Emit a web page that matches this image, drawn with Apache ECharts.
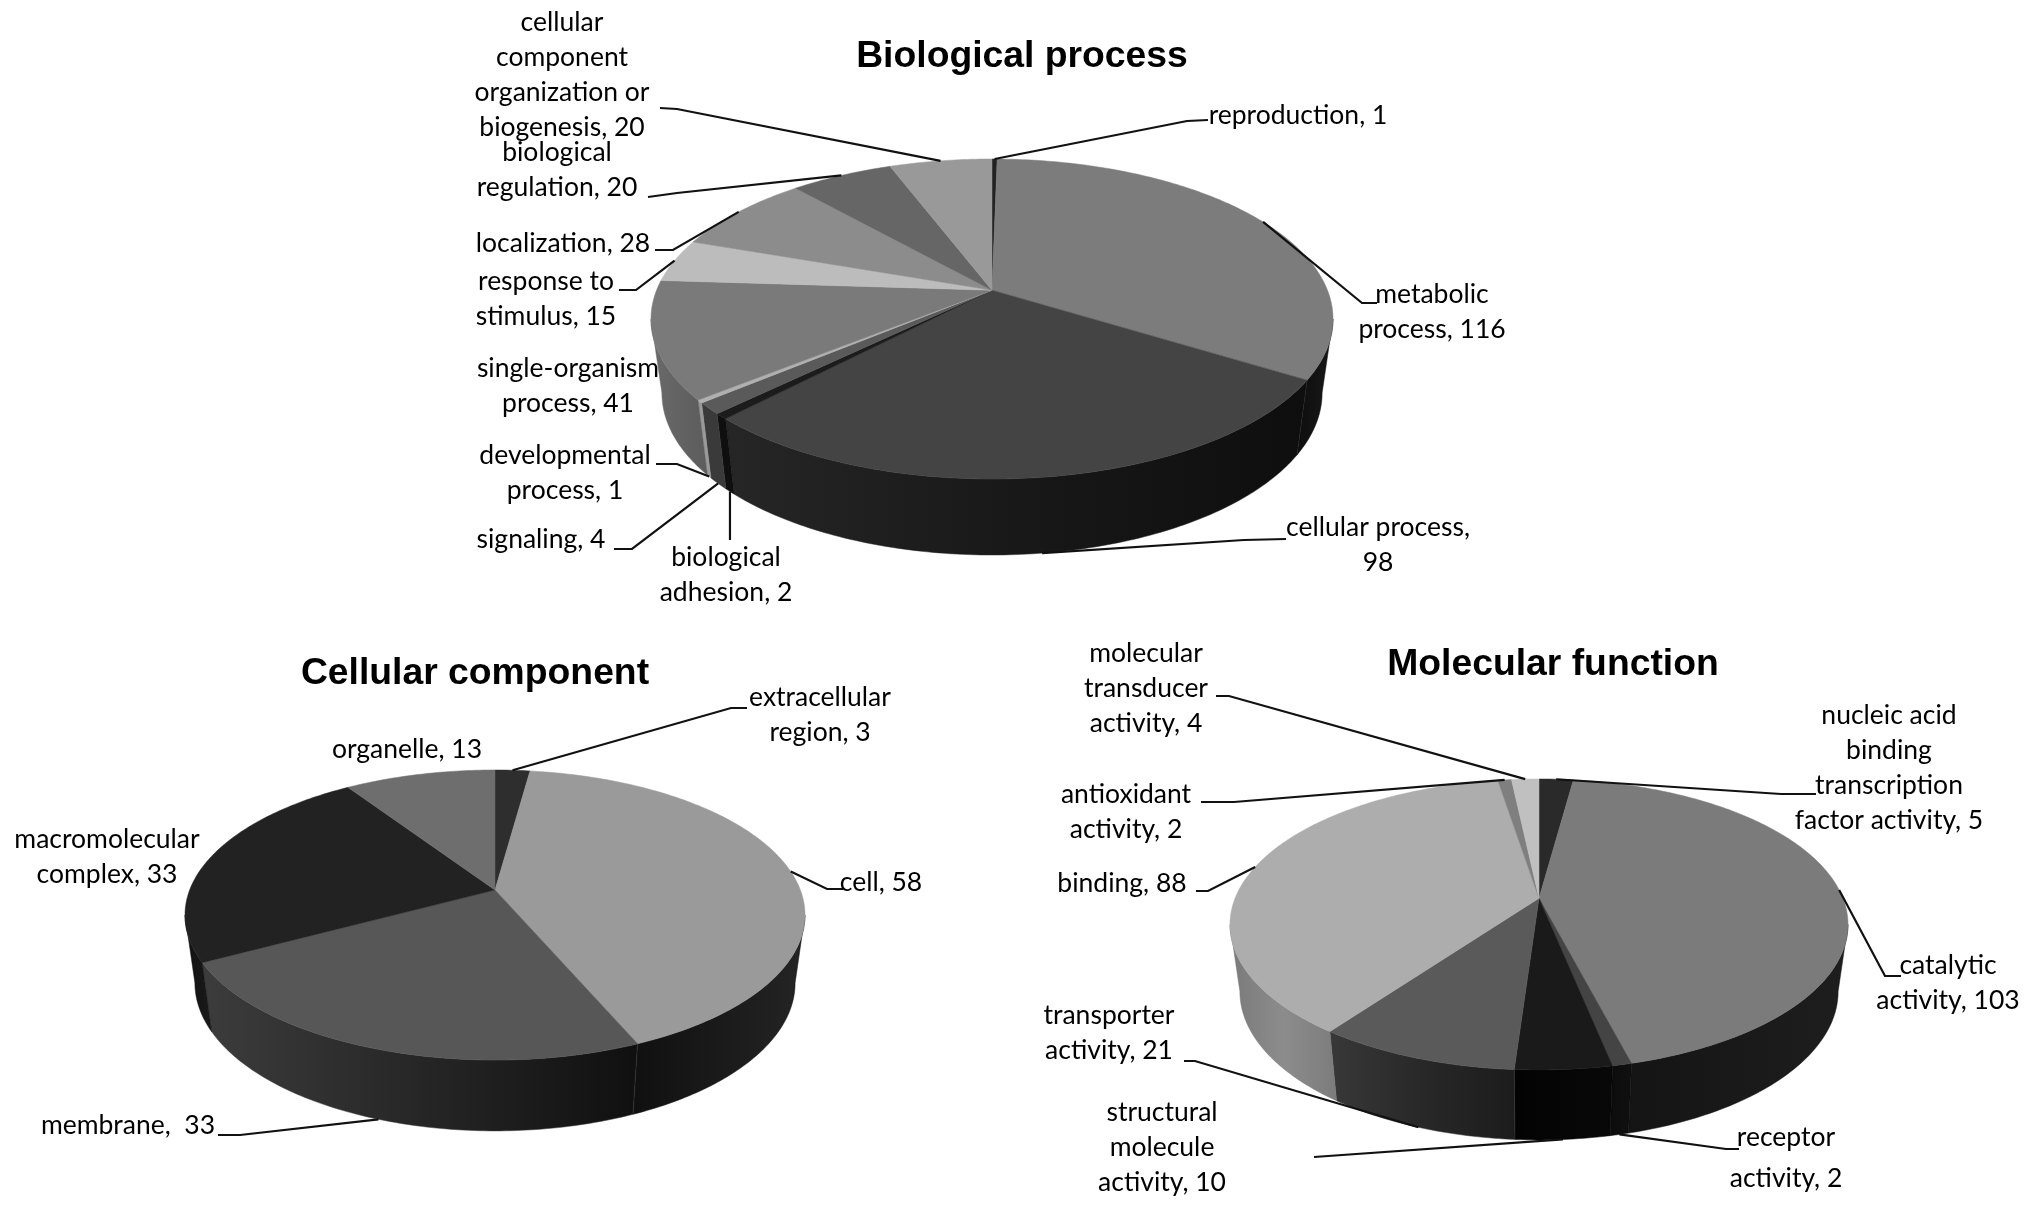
<!DOCTYPE html>
<html><head><meta charset="utf-8">
<style>html,body{margin:0;background:#fff}#c{width:2031px;height:1207px}</style>
<script src="https://cdn.jsdelivr.net/npm/echarts@6/dist/echarts.min.js"></script>
</head><body><div id="c"></div>
<script>
// ---------- data ----------
const bioNames = ['reproduction, 1','metabolic\nprocess, 116','cellular process,\n98','biological\nadhesion, 2','signaling, 4','developmental\nprocess, 1','single-organism\nprocess, 41','response to\nstimulus, 15','localization, 28','biological\nregulation, 20','cellular\ncomponent\norganization or\nbiogenesis, 20'];
const bioValues = [1,116,98,2,4,1,41,15,28,20,20];
const ccNames = ['extracellular\nregion, 3','cell, 58','membrane,  33','macromolecular\ncomplex, 33','organelle, 13'];
const ccValues = [3,58,33,33,13];
const mfNames = ['nucleic acid\nbinding\ntranscription\nfactor activity, 5','catalytic\nactivity, 103','receptor\nactivity, 2','structural\nmolecule\nactivity, 10','transporter\nactivity, 21','binding, 88','antioxidant\nactivity, 2','molecular\ntransducer\nactivity, 4'];
const mfValues = [5,103,2,10,21,88,2,4];

// ---------- style ----------
const bioTop = ['#222222','#7c7c7c','#444444','#1c1c1c','#5a5a5a','#b0b0b0','#7a7a7a','#bcbcbc','#8c8c8c','#666666','#999999'];
const bioWall = [['#111','#111'],['#0e0e0e','#181818'],['#262626','#181818','#0e0e0e'],['#0f0f0f','#0f0f0f'],['#3a3a3a','#3a3a3a'],['#999','#999'],['#6a6a6a','#5c5c5c'],['#888','#888'],['#555','#555'],['#444','#444'],['#555','#555']];
const ccTop = ['#2e2e2e','#9a9a9a','#575757','#222222','#6e6e6e'];
const ccWall = [['#111','#111'],['#101010','#242424'],['#3c3c3c','#262626','#101010'],['#111','#1a1a1a'],['#333','#333']];
const mfTop = ['#2a2a2a','#7b7b7b','#444444','#1a1a1a','#5a5a5a','#adadad','#7f7f7f','#c0c0c0'];
const mfWall = [['#111','#111'],['#141414','#1e1e1e'],['#0c0c0c','#101010'],['#030303','#080808'],['#383838','#282828','#1c1c1c'],['#7a7a7a','#8c8c8c','#7c7c7c'],['#444','#444'],['#666','#666']];

// ---------- layout ----------
const bioShape = {cx:992,cy:319,rx:341,ry:160,a:-0.18,kx:0.968,ky:1.0125,h:74};
const ccShape = {cx:495,cy:915,rx:310,ry:145,a:-0.172,kx:0.968,ky:1.02,h:68};
const mfShape = {cx:1539,cy:924.5,rx:309,ry:145.5,a:-0.18,kx:0.968,ky:1.02,h:67};
// label centre, then leader points from the label towards the pie (null = no leader)
const bioLabels = [
 {at:[1298,115],line:[[1208,120],[1187,121]]},
 {at:[1432,312],line:[[1377,303],[1362,303]]},
 {at:[1378,545],line:[[1286,539],[1244,540]]},
 {at:[726,575],line:[[730,540]]},
 {at:[541,539],line:[[614,549],[632,549]]},
 {at:[565,473],line:[[656,464],[677,464]]},
 {at:[568,386],line:null},
 {at:[546,299],line:[[619,290],[636,290]]},
 {at:[563,243],line:[[655,250],[673,250]]},
 {at:[557,170],line:[[648,197],[677,193]]},
 {at:[562,75],line:[[660,108],[677,109]]}];
const ccLabels = [
 {at:[820,715],line:[[747,708],[731,708]]},
 {at:[881,882],line:[[843,889],[827,889]]},
 {at:[128,1125],line:[[218,1135],[240,1135]]},
 {at:[107,857],line:null},
 {at:[407,749],line:null}];
const mfLabels = [
 {at:[1889,768],line:[[1816,794],[1781,794]]},
 {at:[1948,983],line:[[1901,976],[1885,976]]},
 {at:[1786,1158],line:[[1739,1149],[1726,1149]],lh:41},
 {at:[1162,1147],line:[[1314,1157]]},
 {at:[1109,1033],line:[[1184,1061],[1195,1061]]},
 {at:[1122,883],line:[[1196,891],[1208,891]]},
 {at:[1126,812],line:[[1201,802],[1234,802]]},
 {at:[1146,688],line:[[1216,696],[1229,696]]}];

const FONT = 'Lato, "Open Sans", sans-serif';

// projective map of a unit disc onto the tilted ellipse; the pie's apex falls on (0,a)
function rim(s, theta, bottom) {
  const x = Math.sin(theta), y = -Math.cos(theta), d = 1 + s.a * y;
  const u = x * Math.sqrt(1 - s.a * s.a) / d, v = (y + s.a) / d;
  return bottom
    ? [s.cx + s.rx * s.kx * u, s.cy + s.h + s.ry * s.ky * v]
    : [s.cx + s.rx * u, s.cy + s.ry * v];
}
function apex(s) { return [s.cx, s.cy + s.ry * s.a]; }

function pieSeries(values, names, tops, walls, shape, labels) {
  const total = values.reduce((p, c) => p + c, 0);
  return {
    type: 'custom', coordinateSystem: 'none', silent: true, clip: false,
    data: values.map((v, i) => ({value: [v, i], name: names[i]})),
    renderItem(params, api) {
      const i = params.dataIndex, v = api.value(0);
      let before = 0;
      for (let j = 0; j < i; j++) before += values[j];
      const t0 = before / total * 2 * Math.PI, t1 = (before + v) / total * 2 * Math.PI;
      const tm = (t0 + t1) / 2, steps = Math.max(2, Math.ceil((t1 - t0) / 0.015));
      const children = [];
      // top face
      const pts = [apex(shape)];
      for (let n = 0; n <= steps; n++) pts.push(rim(shape, t0 + (t1 - t0) * n / steps, false));
      children.push({type:'polygon', z2:20, shape:{points:pts}, style:{fill:tops[i], stroke:tops[i], lineWidth:0.5}});
      // visible part of the side wall: the rim passes its widest point at acos(a)
      const lo = Math.acos(shape.a), hi = 2 * Math.PI - lo;
      const a0 = Math.max(t0, lo), a1 = Math.min(t1, hi);
      if (a1 > a0) {
        const n2 = Math.max(2, Math.ceil((a1 - a0) / 0.015)), up = [], dn = [];
        for (let n = 0; n <= n2; n++) {
          const t = a0 + (a1 - a0) * n / n2;
          up.push(rim(shape, t, false)); dn.unshift(rim(shape, t, true));
        }
        // walls[i] runs from the left end of the wall to its right end
        const w = walls[i];
        const fill = new echarts.graphic.LinearGradient(0, 0, 1, 0,
          w.map((c, n) => ({offset:n / (w.length - 1), color:c})));
        children.push({type:'polygon', z2:10, shape:{points:up.concat(dn)}, style:{fill:fill, stroke:w[0], lineWidth:0.5}});
      }
      // leader line and label
      const lab = labels[i];
      if (lab.line) {
        const front = -Math.cos(tm) > 0.3;
        const end = rim(shape, tm, front);
        children.push({type:'polyline', z2:30, shape:{points:lab.line.concat([end])}, style:{fill:'none', stroke:'#111', lineWidth:2.2}});
      }
      children.push({type:'text', z2:40, x:lab.at[0], y:lab.at[1], style:{
        text:names[i], align:'center', verticalAlign:'middle', fill:'#000',
        font:'26.5px ' + FONT, lineHeight:lab.lh || 35}});
      return {type:'group', children};
    }
  };
}

const chart = echarts.init(document.getElementById('c'), null, {renderer:'canvas'});
const titleStyle = {fontFamily:'"Liberation Sans", Arial, sans-serif', fontWeight:'bold', fontSize:37.3, color:'#000'};
chart.setOption({
  animation:false, backgroundColor:'#fff',
  title:[
    {text:'Biological process', left:1017, top:52, textAlign:'center', textVerticalAlign:'middle', textStyle:titleStyle},
    {text:'Cellular component', left:470, top:669, textAlign:'center', textVerticalAlign:'middle', textStyle:titleStyle},
    {text:'Molecular function', left:1548, top:660, textAlign:'center', textVerticalAlign:'middle', textStyle:titleStyle}
  ],
  series:[
    pieSeries(bioValues, bioNames, bioTop, bioWall, bioShape, bioLabels),
    pieSeries(ccValues, ccNames, ccTop, ccWall, ccShape, ccLabels),
    pieSeries(mfValues, mfNames, mfTop, mfWall, mfShape, mfLabels)
  ]
});
</script></body></html>
